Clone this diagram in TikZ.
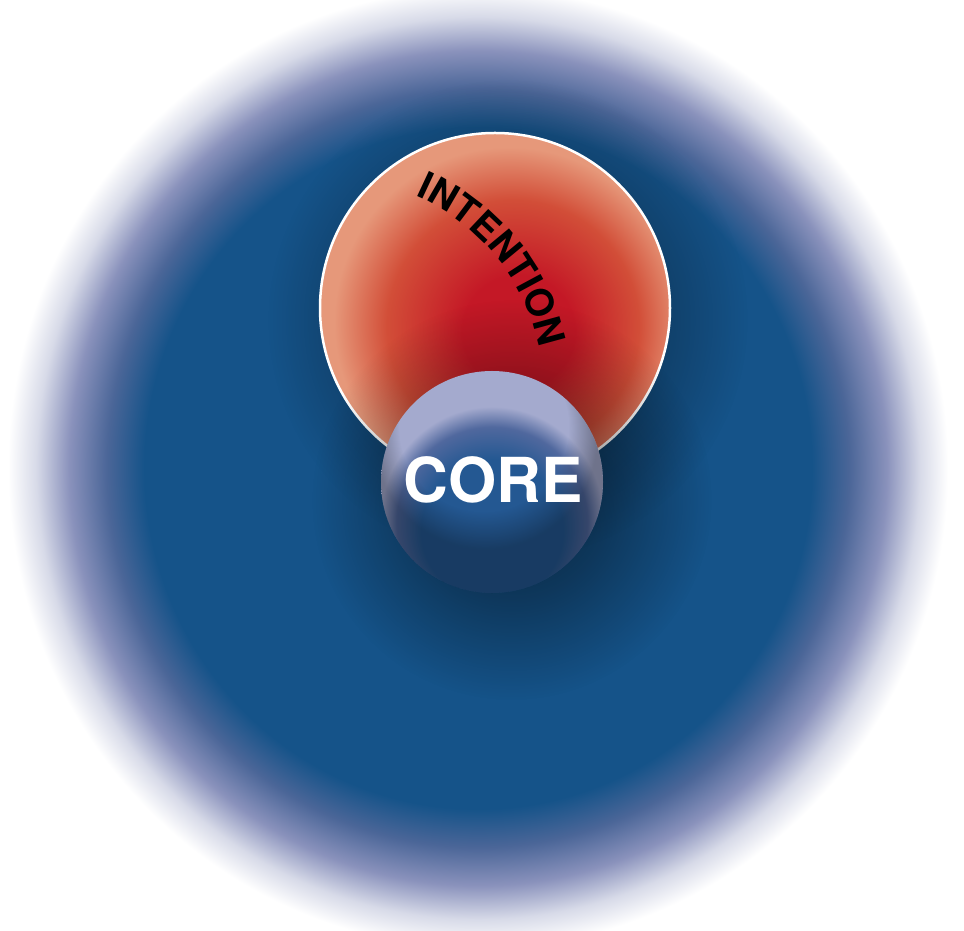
\documentclass[tikz,border=0pt]{standalone}
\usepackage{fontspec}
\newfontfamily\heros{TeX Gyre Heros}
\usetikzlibrary{decorations.text,fadings}

\definecolor{bgblue}{RGB}{21,83,137}
\definecolor{bgmid}{RGB}{75,102,152}
\definecolor{bglight}{RGB}{138,146,188}
\definecolor{bgpale}{RGB}{215,218,232}
\definecolor{redC}{RGB}{196,24,38}
\definecolor{redM}{RGB}{210,78,56}
\definecolor{redL}{RGB}{230,152,122}
\definecolor{coreblue}{RGB}{36,88,146}
\definecolor{coremid}{RGB}{80,104,158}
\definecolor{corelight}{RGB}{164,170,206}

\pgfdeclareradialshading{bgfade}{\pgfpointorigin}{color(0bp)=(bgblue); color(17.75bp)=(bgblue); color(19.75bp)=(bgmid); color(21.75bp)=(bglight); color(23.5bp)=(bgpale); color(25bp)=(white); color(50bp)=(white)}
\pgfdeclareradialshading{redball}{\pgfpoint{4bp}{-4bp}}{color(0bp)=(redC); color(8bp)=(redC); color(18bp)=(redM); color(25bp)=(redL); color(50bp)=(redL)}
\pgfdeclareradialshading{coreball}{\pgfpoint{0bp}{-16bp}}{color(0bp)=(coreblue); color(16bp)=(coreblue); color(21.5bp)=(coremid); color(25bp)=(corelight); color(50bp)=(corelight)}
\pgfdeclareradialshading{shadowshade}{\pgfpointorigin}{color(0bp)=(black!40); color(12.5bp)=(black!68); color(25bp)=(black); color(50bp)=(black)}
\pgfdeclarefading{softshadow}{\pgfuseshading{shadowshade}}
\pgfdeclareradialshading{rimshade}{\pgfpoint{-3bp}{20bp}}{color(0bp)=(black); color(19bp)=(black); color(25bp)=(black!68); color(50bp)=(black!68)}
\pgfdeclarefading{rimfade}{\pgfuseshading{rimshade}}

\begin{document}
\begin{tikzpicture}[x=1pt,y=1pt]
\useasboundingbox (0,0) rectangle (964,931);
\fill[white] (0,0) rectangle (964,931);
% blurred blue field
\shade[shading=bgfade] (478,463) ellipse [x radius=470, y radius=480];
% shadow of intention circle
\fill[black, path fading=softshadow] (508,611) circle (240);
% intention circle
\shadedraw[shading=redball, draw=white, line width=2.5pt] (495,623) circle (175);
% shadow of core
\fill[black, path fading=softshadow] (512,431) circle (200);
% core ball
\shade[shading=coreball] (492,449) circle (111);
\fill[black, path fading=rimfade] (492,449) circle (111);
\node[text=white, font=\heros\bfseries\fontsize{62}{62}\selectfont] (core) at (493,451) {CORE};
% curved label
\coordinate (arcc) at (329,539);
\path[decorate, decoration={text along path, text={|\heros\bfseries\fontsize{38}{38}\selectfont|INTENTION}, text align=center}] (arcc) ++(70:215) arc (70:8:215);
\end{tikzpicture}
\end{document}
